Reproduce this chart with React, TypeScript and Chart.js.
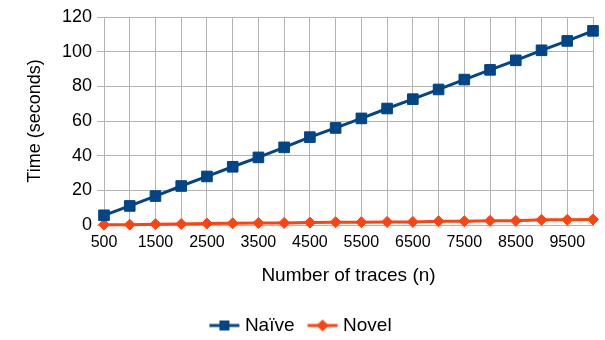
import React, { useEffect, useRef } from "react";
import { Chart, registerables } from "chart.js";

Chart.register(...registerables);

const traces = [500, 1000, 1500, 2000, 2500, 3000, 3500, 4000, 4500, 5000, 5500, 6000, 6500, 7000, 7500, 8000, 8500, 9000, 9500, 10000];
const naive = [5.6, 11.0, 16.7, 22.5, 28.0, 33.6, 39.0, 44.8, 50.7, 56.0, 61.5, 67.2, 72.6, 78.2, 83.9, 89.5, 95.0, 100.8, 106.2, 112.0];
const novel = [0.2, 0.2, 0.5, 0.6, 0.8, 1.0, 1.2, 1.2, 1.4, 1.6, 1.6, 1.8, 1.8, 2.2, 2.2, 2.4, 2.4, 3.0, 3.0, 3.2];
const yTicks = [0, 20, 40, 60, 80, 100, 120];
const xLabelTicks = [500, 1500, 2500, 3500, 4500, 5500, 6500, 7500, 8500, 9500];

const NAIVE_COLOR = "#004586";
const NOVEL_COLOR = "#ff420e";
const GRID = "#b3b3b3";
const FONT = "'Liberation Sans', Arial, sans-serif";

function makeIcon(color: string, kind: "rect" | "diamond"): HTMLCanvasElement {
  // image 44 wide; visible icon occupies x 13..43
  const c = document.createElement("canvas");
  c.width = 44;
  c.height = 14;
  const ctx = c.getContext("2d")!;
  const x0 = 13;
  ctx.strokeStyle = color;
  ctx.lineWidth = 3;
  ctx.beginPath();
  ctx.moveTo(x0, 7);
  ctx.lineTo(x0 + 30, 7);
  ctx.stroke();
  ctx.fillStyle = color;
  ctx.beginPath();
  if (kind === "rect") {
    ctx.rect(x0 + 10, 2, 10, 10);
  } else {
    ctx.moveTo(x0 + 15, 1);
    ctx.lineTo(x0 + 21, 7);
    ctx.lineTo(x0 + 15, 13);
    ctx.lineTo(x0 + 9, 7);
    ctx.closePath();
  }
  ctx.fill();
  return c;
}

export default function App() {
  const ref = useRef<HTMLCanvasElement | null>(null);
  useEffect(() => {
    if (!ref.current) return;
    const iconNaive = makeIcon(NAIVE_COLOR, "rect");
    const iconNovel = makeIcon(NOVEL_COLOR, "diamond");
    const chart = new Chart(ref.current, {
      type: "line",
      data: {
        datasets: [
          {
            label: "Naïve",
            data: traces.map((x, i) => ({ x, y: naive[i] })),
            borderColor: NAIVE_COLOR,
            backgroundColor: NAIVE_COLOR,
            borderWidth: 3,
            pointStyle: "rect",
            pointRadius: 7.5,
            pointBorderWidth: 1,
            pointBackgroundColor: NAIVE_COLOR,
            pointBorderColor: NAIVE_COLOR,
            clip: false as any,
          },
          {
            label: "Novel",
            data: traces.map((x, i) => ({ x, y: novel[i] })),
            borderColor: NOVEL_COLOR,
            backgroundColor: NOVEL_COLOR,
            borderWidth: 3,
            pointStyle: "rectRot",
            pointRadius: 5.5,
            pointBorderWidth: 1,
            pointBackgroundColor: NOVEL_COLOR,
            pointBorderColor: NOVEL_COLOR,
            clip: false as any,
          },
        ],
      },
      options: {
        animation: false,
        responsive: false,
        maintainAspectRatio: false,
        layout: { padding: { top: 17, right: 12, left: 0, bottom: -5 } },
        plugins: {
          tooltip: { enabled: false },
          legend: {
            position: "bottom",
            labels: {
              usePointStyle: true,
              pointStyleWidth: 34,
              padding: 5,
              color: "#000",
              font: { family: FONT, size: 19 },
              generateLabels: () => [
                { text: "Naïve", pointStyle: iconNaive as any, fillStyle: NAIVE_COLOR, strokeStyle: NAIVE_COLOR, lineWidth: 0, datasetIndex: 0, hidden: false, fontColor: "#000" } as any,
                { text: "Novel", pointStyle: iconNovel as any, fillStyle: NOVEL_COLOR, strokeStyle: NOVEL_COLOR, lineWidth: 0, datasetIndex: 1, hidden: false, fontColor: "#000" } as any,
              ],
            },
          },
        },
        scales: {
          x: {
            type: "linear",
            min: traces[0],
            max: traces[traces.length - 1],
            afterBuildTicks: (scale: any) => {
              scale.ticks = traces.map((v) => ({ value: v }));
            },
            afterFit: (scale: any) => {
              scale.height = 86;
            },
            ticks: {
              autoSkip: false,
              maxRotation: 0,
              padding: 8,
              color: "#000",
              font: { family: FONT, size: 16 },
              callback: (v: any) => (xLabelTicks.includes(Number(v)) ? String(v) : ""),
            },
            grid: { color: GRID, lineWidth: 1, drawTicks: false },
            border: { color: GRID },
            title: {
              display: true,
              text: "Number of traces (n)",
              color: "#000",
              font: { family: FONT, size: 19 },
              padding: { top: 0, bottom: 24 },
            },
          },
          y: {
            min: 0,
            max: 120,
            afterBuildTicks: (scale: any) => {
              scale.ticks = yTicks.map((v) => ({ value: v }));
            },
            afterFit: (scale: any) => {
              scale.width = 104;
            },
            ticks: {
              padding: 5,
              color: "#000",
              font: { family: FONT, size: 18 },
            },
            grid: { color: GRID, lineWidth: 1, tickLength: 7 },
            border: { color: GRID },
            title: {
              display: true,
              text: "Time (seconds)",
              color: "#000",
              font: { family: FONT, size: 18 },
              padding: { top: 24, bottom: 0 },
            },
          },
        },
      },
    });
    return () => chart.destroy();
  }, []);
  return (
    <div style={{ position: "absolute", left: 0, top: 0, width: 605, height: 340, background: "#fff" }}>
      <canvas ref={ref} width={605} height={340} style={{ width: 605, height: 340 }} />
    </div>
  );
}
